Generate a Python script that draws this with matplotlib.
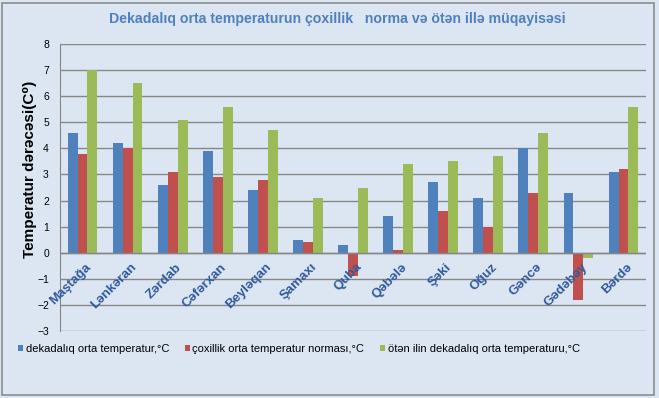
import matplotlib
matplotlib.use("Agg")
import matplotlib.pyplot as plt
import numpy as np
from matplotlib.patches import Rectangle

plt.rcParams['font.family'] = ['Liberation Sans', 'DejaVu Sans']

categories = ["Maştağa", "Lənkəran", "Zərdab", "Cəfərxan", "Beyləqan", "Şamaxı",
              "Quba", "Qəbələ", "Şəki", "Oğuz", "Gəncə", "Gədəbəy", "Bərdə"]
current = [4.6, 4.2, 2.6, 3.9, 2.4, 0.5, 0.3, 1.4, 2.7, 2.1, 4.0, 2.3, 3.1]
norm = [3.8, 4.0, 3.1, 2.9, 2.8, 0.4, -0.9, 0.1, 1.6, 1.0, 2.3, -1.8, 3.2]
last_year = [7.0, 6.5, 5.1, 5.6, 4.7, 2.1, 2.5, 3.4, 3.5, 3.7, 4.6, -0.2, 5.6]
series_names = ["dekadalıq orta temperatur,°C",
                "çoxillik orta temperatur norması,°C",
                "ötən ilin dekadalıq orta temperaturu,°C"]
colors = ["#4F81BD", "#C0504D", "#9BBB59"]
bg = "#DCE6F2"

fig = plt.figure(figsize=(6.59, 3.98), dpi=100, facecolor=bg)
fig.patches.append(Rectangle((0.003, 0.008), 0.990, 0.985, transform=fig.transFigure,
                             fill=False, edgecolor="#8C8C8C", linewidth=1.2))
ax = fig.add_axes([60/659, 1-331/398, (646-60)/659, (331-44)/398])
ax.set_facecolor(bg)

x = np.arange(len(categories))
w = 0.22
for k, (vals, name) in enumerate(zip([current, norm, last_year], series_names)):
    ax.bar(x + (k-1)*w, vals, w, color=colors[k], label=name, zorder=3)

ax.set_xlim(-0.5, len(categories)-0.5)
ax.set_ylim(-3, 8)
ax.set_yticks(range(-3, 9))
ax.yaxis.grid(True, color="#868686", linewidth=1.0, zorder=0)
ax.axhline(0, color="#868686", linewidth=1.0, zorder=4)
ax.set_xticks([])
for s in ["top", "right", "bottom"]:
    ax.spines[s].set_visible(False)
ax.spines["left"].set_color("#868686")
ax.tick_params(axis='y', length=0, labelsize=7.5, pad=8)

for i, c in enumerate(categories):
    ax.annotate(c, xy=(i, 0), xytext=(2, -6), textcoords='offset points',
                rotation=45, ha='right', va='top', rotation_mode='anchor',
                fontsize=9.5, fontweight='bold', color="#2F5A9C")

fig.text(337/659, 1-19/398, "Dekadalıq orta temperaturun çoxillik   norma və ötən illə müqayisəsi",
         ha='center', va='center', fontsize=10.2, fontweight='bold', color="#4F81BD")
fig.text(30/659, 1-169/398, "Temperatur dərəcəsi(C⁰)", rotation=90,
         ha='center', va='center', fontsize=11, fontweight='bold')

leg = fig.legend(loc='center left', bbox_to_anchor=(18/659, 1-349/398), ncol=3,
                 frameon=False, fontsize=8, handlelength=0.45, handleheight=0.45,
                 handletextpad=0.27, columnspacing=1.35, borderaxespad=0, borderpad=0)

fig.savefig("out.png", dpi=100, facecolor=bg)
